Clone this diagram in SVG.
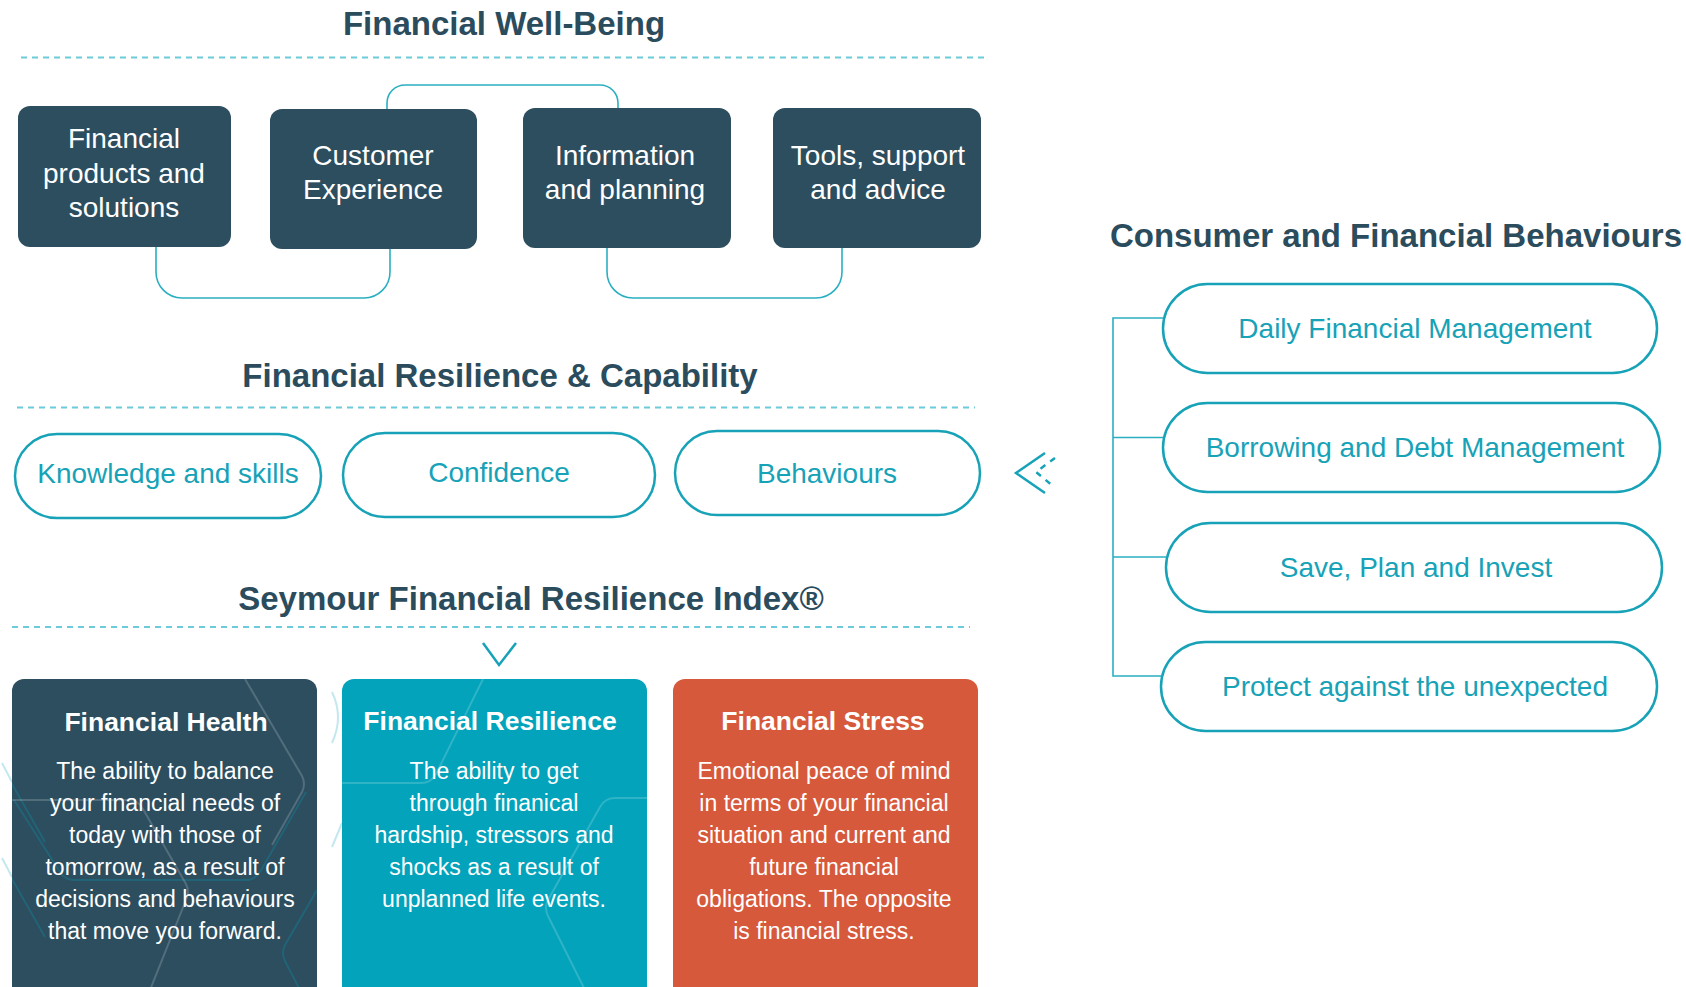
<svg xmlns="http://www.w3.org/2000/svg" width="1686" height="987" viewBox="0 0 1686 987">
<defs>
<style>
text{font-family:"Liberation Sans",Arial,Helvetica,sans-serif}
.title{font-weight:bold;font-size:33px;fill:#2b4c5d;text-anchor:middle}
.dash{stroke:#6ccbd8;stroke-width:2;stroke-dasharray:6 5;fill:none}
.box{fill:#2c4e5f}
.boxt{font-size:28px;fill:#ffffff;text-anchor:middle}
.pill{fill:#ffffff;stroke:#17a2b7;stroke-width:2.5}
.pillt{font-size:28px;fill:#17a2b7;text-anchor:middle}
.conn{fill:none;stroke:#2aafc1;stroke-width:1.6}
.ctitle{font-weight:bold;font-size:26.5px;fill:#ffffff;text-anchor:middle}
.cbody{font-size:23px;fill:#ffffff;text-anchor:middle}
.deco-l{fill:none;stroke:#ffffff;stroke-opacity:0.18;stroke-width:2}
.deco-d{fill:none;stroke:#1a7287;stroke-opacity:0.6;stroke-width:2}
.deco-o{fill:none;stroke:#c3e8ee;stroke-width:2}
.chev{fill:none;stroke:#17a2b7;stroke-width:2.5}
</style>
<clipPath id="clip1"><rect x="12" y="679" width="305" height="330" rx="12"/></clipPath>
<clipPath id="clip2"><rect x="342" y="679" width="305" height="330" rx="12"/></clipPath>
</defs>
<rect width="1686" height="987" fill="#ffffff"/>

<g id="section-titles">
<text class="title" x="504" y="35">Financial Well-Being</text>
<line class="dash" x1="21" y1="57.5" x2="984" y2="57.5"/>
<text class="title" x="500" y="387">Financial Resilience &amp; Capability</text>
<line class="dash" x1="17" y1="407.5" x2="975" y2="407.5"/>
<text class="title" x="531" y="610">Seymour Financial Resilience Index®</text>
<line class="dash" x1="12" y1="627" x2="970" y2="627"/>
<text class="title" x="1396" y="247">Consumer and Financial Behaviours</text>
</g>

<g id="connectors">
<path class="conn" d="M387,109 V103 A18,18 0 0 1 405,85 H600 A18,18 0 0 1 618,103 V108"/>
<path class="conn" d="M156,247 V272 A26,26 0 0 0 182,298 H364 A26,26 0 0 0 390,272 V249"/>
<path class="conn" d="M607,248 V272 A26,26 0 0 0 633,298 H816 A26,26 0 0 0 842,272 V248"/>
<path class="conn" d="M1163,318 H1113 V676 H1161 M1113,437.5 H1163 M1113,557 H1166"/>
<path class="chev" d="M1045,453 L1016,473 L1045,493" stroke-width="3"/>
<path class="chev" d="M1055,458 L1036,472 L1053,486" stroke-width="2" stroke-dasharray="6 6"/>
<path class="chev" d="M483,643 L499,665 L516,643"/>
</g>

<g id="box-products">
<rect class="box" x="18" y="106" width="213" height="141" rx="12"/>
<text class="boxt" x="124" y="148">Financial</text>
<text class="boxt" x="124" y="183">products and</text>
<text class="boxt" x="124" y="217">solutions</text>
</g>
<g id="box-customer">
<rect class="box" x="270" y="109" width="207" height="140" rx="12"/>
<text class="boxt" x="373" y="165">Customer</text>
<text class="boxt" x="373" y="199">Experience</text>
</g>
<g id="box-information">
<rect class="box" x="523" y="108" width="208" height="140" rx="12"/>
<text class="boxt" x="625" y="165">Information</text>
<text class="boxt" x="625" y="199">and planning</text>
</g>
<g id="box-tools">
<rect class="box" x="773" y="108" width="208" height="140" rx="12"/>
<text class="boxt" x="878" y="165">Tools, support</text>
<text class="boxt" x="878" y="199">and advice</text>
</g>

<g id="pill-knowledge">
<rect class="pill" x="15" y="434" width="306" height="84" rx="42"/>
<text class="pillt" x="168" y="483">Knowledge and skills</text>
</g>
<g id="pill-confidence">
<rect class="pill" x="343" y="433" width="312" height="84" rx="42"/>
<text class="pillt" x="499" y="482">Confidence</text>
</g>
<g id="pill-behaviours">
<rect class="pill" x="675" y="431" width="305" height="84" rx="42"/>
<text class="pillt" x="827" y="483">Behaviours</text>
</g>

<g id="pill-daily">
<rect class="pill" x="1163" y="284" width="494" height="89" rx="44.5"/>
<text class="pillt" x="1415" y="338">Daily Financial Management</text>
</g>
<g id="pill-borrowing">
<rect class="pill" x="1163" y="403" width="497" height="89" rx="44.5"/>
<text class="pillt" x="1415" y="457">Borrowing and Debt Management</text>
</g>
<g id="pill-save">
<rect class="pill" x="1166" y="523" width="496" height="89" rx="44.5"/>
<text class="pillt" x="1416" y="577">Save, Plan and Invest</text>
</g>
<g id="pill-protect">
<rect class="pill" x="1161" y="642" width="496" height="89" rx="44.5"/>
<text class="pillt" x="1415" y="696">Protect against the unexpected</text>
</g>

<g id="decor-outside">
<path class="deco-o" d="M2,763 L12,782 M2,858 L12,877 M332,692 Q344,717 332,743 M342,823 L332,847"/>
</g>

<g id="card-health">
<rect x="12" y="679" width="305" height="330" rx="12" fill="#2c4e5f"/>
<g clip-path="url(#clip1)">
<path class="deco-d" d="M0,763 L45,842 M14,800 L60,872 Q65,880 74,880 H246 Q255,880 260,872 L306,792 M0,858 L45,937 M317,890 L285,945 Q281,953 285,961 L300,990"/>
<path class="deco-l" d="M245,679 L302,776 Q306,784 302,792 L272,845 M10,800 H128 Q138,800 143,809 L186,884 Q190,892 186,900 L150,990"/>
</g>
<text class="ctitle" x="166" y="731">Financial Health</text>
<text class="cbody" x="165" y="779">The ability to balance</text>
<text class="cbody" x="165" y="811">your financial needs of</text>
<text class="cbody" x="165" y="843">today with those of</text>
<text class="cbody" x="165" y="875">tomorrow, as a result of</text>
<text class="cbody" x="165" y="907">decisions and behaviours</text>
<text class="cbody" x="165" y="939">that move you forward.</text>
</g>

<g id="card-resilience">
<rect x="342" y="679" width="305" height="330" rx="12" fill="#02a3bb"/>
<g clip-path="url(#clip2)">
<path class="deco-l" d="M483,679 L436,774 Q431,783 421,783 H342 M647,798 H615 Q605,798 600,807 L548,900 Q544,908 548,916 L585,990"/>
</g>
<text class="ctitle" x="490" y="730">Financial Resilience</text>
<text class="cbody" x="494" y="779">The ability to get</text>
<text class="cbody" x="494" y="811">through finanical</text>
<text class="cbody" x="494" y="843">hardship, stressors and</text>
<text class="cbody" x="494" y="875">shocks as a result of</text>
<text class="cbody" x="494" y="907">unplanned life events.</text>
</g>

<g id="card-stress">
<rect x="673" y="679" width="305" height="330" rx="12" fill="#d6593c"/>
<text class="ctitle" x="823" y="730">Financial Stress</text>
<text class="cbody" x="824" y="779">Emotional peace of mind</text>
<text class="cbody" x="824" y="811">in terms of your financial</text>
<text class="cbody" x="824" y="843">situation and current and</text>
<text class="cbody" x="824" y="875">future financial</text>
<text class="cbody" x="824" y="907">obligations. The opposite</text>
<text class="cbody" x="824" y="939">is financial stress.</text>
</g>
</svg>
